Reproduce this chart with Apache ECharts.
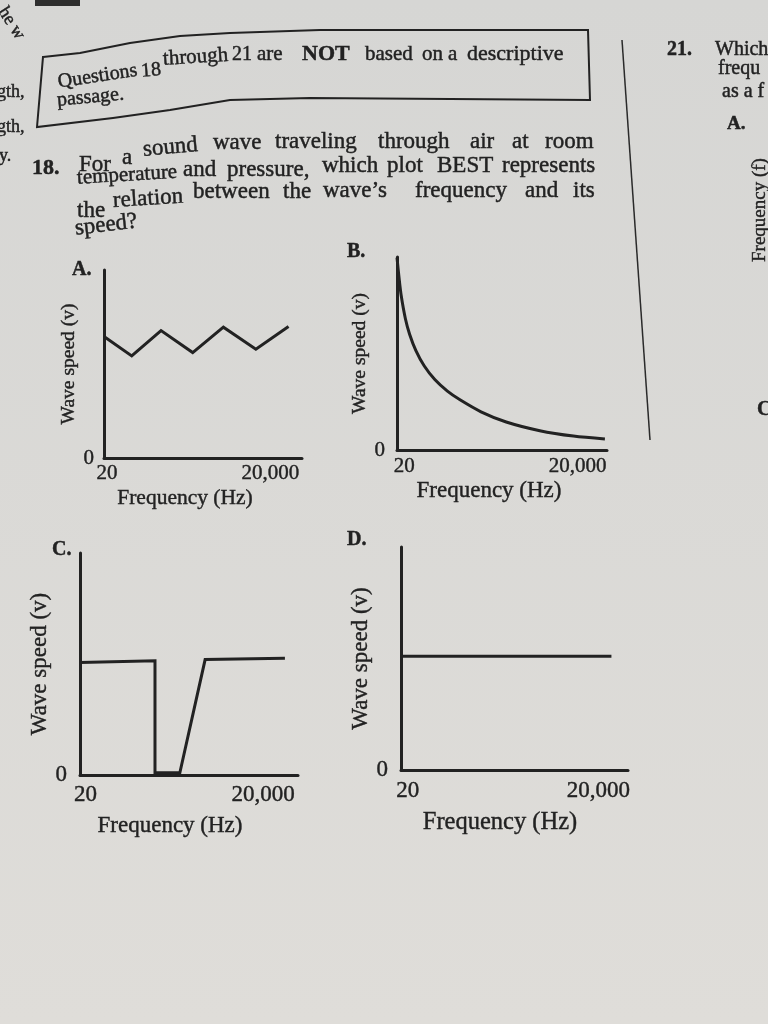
<!DOCTYPE html>
<html>
<head>
<meta charset="utf-8">
<script src="https://cdn.jsdelivr.net/npm/echarts@6/dist/echarts.min.js"></script>
<style>
html,body{margin:0;padding:0;background:#dcdbd8;}
#chart{width:768px;height:1024px;}
</style>
</head>
<body>
<div id="chart"></div>
<script>
// ---- data ----
const xTickLabels = ['20', '20,000'];
const yTickLabels = ['0'];
const xTitle = 'Frequency (Hz)';
const yTitle = 'Wave speed (v)';
const panelLetters = ['A.', 'B.', 'C.', 'D.'];

const freqA = [0, 14, 28.8, 44.8, 60.3, 76.7, 93.2];
const speedA = [6.46, 5.43, 6.78, 5.61, 6.96, 5.79, 6.99];

const freqB = [0, 1, 2, 4, 6, 9, 13, 18, 24, 30, 40, 52, 68, 84, 99];
const speedB = [9.97, 8.9, 8.0, 6.8, 6.0, 5.15, 4.35, 3.65, 3.05, 2.6, 1.98, 1.45, 1.0, 0.72, 0.57];

const freqC = [0, 34.4, 34.4, 45.8, 57.4, 94];
const speedC = [5.07, 5.15, 0.1, 0.1, 5.2, 5.26];

const freqD = [0, 92.7];
const speedD = [5.1, 5.1];

// where the two x tick labels sit on each panel's 0..100 frequency scale
const xTickAtA = [1.5, 84];
const xTickAtB = [3.5, 86];
const xTickAtC = [2.5, 84];
const xTickAtD = [3, 87];

// ---- layout / style ----
const INK = '#222222';
const SERIF = '"Liberation Serif", "DejaVu Serif", serif';

const panels = [
  {grid:{left:104, top:270, width:198, height:188}, fx:freqA, sy:speedA, ticks:xTickAtA, smooth:false,
   tickFs:21, xMargin:5, yMargin:10, xNameFs:21.5, xGap:29, xPad:36, yNameFs:19.5, yGap:12},
  {grid:{left:397, top:257, width:210, height:193}, fx:freqB, sy:speedB, ticks:xTickAtB, smooth:0.3,
   tickFs:21, xMargin:6, yMargin:12, xNameFs:23, xGap:29, xPad:26, yNameFs:19.5, yGap:14},
  {grid:{left:80, top:553, width:218, height:222}, fx:freqC, sy:speedC, ticks:xTickAtC, smooth:false,
   tickFs:23, xMargin:8, yMargin:13, xNameFs:23, xGap:39, xPad:38, yNameFs:23, yGap:8},
  {grid:{left:401, top:547, width:227, height:223}, fx:freqD, sy:speedD, ticks:xTickAtD, smooth:false,
   tickFs:23, xMargin:9, yMargin:13, xNameFs:24.5, xGap:40, xPad:29, yNameFs:23, yGap:11}
];

const grids = [], xAxes = [], yAxes = [], series = [];
panels.forEach((p, i) => {
  grids.push(Object.assign({containLabel:false}, p.grid));
  const txt = (fs) => ({color:INK, fontFamily:SERIF, fontSize:fs, textBorderColor:INK, textBorderWidth:0.4});
  xAxes.push({
    gridIndex:i, type:'value', min:0, max:100,
    axisLine:{show:true, onZero:false, lineStyle:{color:INK, width:3}},
    axisTick:{show:false}, splitLine:{show:false},
    axisLabel:Object.assign({
      show:true, customValues:p.ticks, margin:p.xMargin,
      formatter:(v) => { const k = p.ticks.indexOf(v); return k >= 0 ? xTickLabels[k] : ''; }
    }, txt(p.tickFs)),
    name:xTitle, nameLocation:'middle', nameGap:p.xGap,
    nameTextStyle:Object.assign({padding:[0, p.xPad, 0, 0]}, txt(p.xNameFs))
  });
  yAxes.push({
    gridIndex:i, type:'value', min:0, max:10,
    axisLine:{show:true, onZero:false, lineStyle:{color:INK, width:3}},
    axisTick:{show:false}, splitLine:{show:false},
    axisLabel:Object.assign({
      show:true, customValues:[0], margin:p.yMargin,
      formatter:() => yTickLabels[0]
    }, txt(p.tickFs)),
    name:yTitle, nameLocation:'middle', nameGap:p.yGap,
    nameTextStyle:txt(p.yNameFs)
  });
  series.push({
    type:'line', xAxisIndex:i, yAxisIndex:i,
    data:p.fx.map((x, k) => [x, p.sy[k]]),
    showSymbol:false, smooth:p.smooth, clip:false,
    lineStyle:{color:INK, width:3, join:'miter'}, animation:false
  });
});

// ---- page text (graphic) ----
const g = [];
g.push({type:'rect', z:-10, silent:true, shape:{x:0, y:0, width:768, height:1024},
  style:{fill:{type:'linear', x:0, y:0, x2:0, y2:1, colorStops:[{offset:0, color:'#d6d6d4'}, {offset:1, color:'#dfddd9'}]}}});

function word(text, x, base, size, bold, rot, color) {
  return {
    type:'text', x:x, y:base - 0.18 * size, rotation:rot || 0, silent:true, z:5,
    style:{text:text, fill:color || INK, stroke:color || INK, lineWidth:0.45,
      font:(bold ? 'bold ' : '') + size + 'px ' + SERIF,
      align:'left', verticalAlign:'middle', textAlign:'left', textVerticalAlign:'middle'}
  };
}

// header box
g.push({type:'polygon', silent:true, z:5, shape:{points:[
  [43,57],[80,53],[130,43],[180,36],[230,33],[320,30],[588,30],[590,100],[310,98],[230,100],[170,110],[113,118],[37,127]
]}, style:{fill:'none', stroke:INK, lineWidth:2}});
[['Questions',58,86,20,false,0.15],['18',141,75,20,false,0.08],['through',163,63,21,false,0.06],
 ['21',232,58,20],['are',257,58,21],['NOT',302,58,22,true],['based',365,58,21],['on',422,58,21],
 ['a',448,58,21],['descriptive',467,58,22],['passage.',57,104,20,false,0.09]
].forEach(w => g.push(word(w[0], w[1], w[2], w[3], w[4], w[5])));

// question 18
const qWords = [
  ['18.',32,172,22,true],['For',79,169,23],['a',122,162,23],['sound',143,154,23,false,0.09],['wave',213,147,23],
  ['traveling',275,146,23],['through',378,146,23],['air',470,146,23],['at',512,146,23],['room',545,146,23],
  ['temperature',77,182,21,false,0.06],['and',183,174,23],['pressure,',227,174,23],['which',322,170,23],
  ['plot',387,170,23],['BEST',437,170,23],['represents',502,170,23],
  ['the',77,215,23],['relation',113,205,23,false,0.06],['between',193,196,23],['the',283,196,23],
  ['wave\u2019s',323,195,23],['frequency',415,195,23],['and',525,195,23],['its',573,195,23],
  ['speed?',75,233,23,false,0.12]
];
qWords.forEach(w => g.push(word(w[0], w[1], w[2], w[3], w[4], w[5])));

// panel letters
[[72,273],[347,255],[52,553],[347,543]].forEach((pt, i) => g.push(word(panelLetters[i], pt[0], pt[1], 20, true)));

// right column fragments
g.push({type:'line', silent:true, z:5, shape:{x1:622, y1:40, x2:650, y2:440}, style:{stroke:'#2a2a2a', lineWidth:1.5}});
g.push(word('21.', 667, 53, 20, true));
g.push(word('Which', 715, 53, 20));
g.push(word('frequ', 718, 72, 20));
g.push(word('as a f', 722, 95, 20));
g.push(word('A.', 727, 128, 19, true));
g.push({type:'text', x:760, y:262, rotation:Math.PI/2, silent:true, z:5,
  style:{text:'Frequency (f)', fill:INK, stroke:INK, lineWidth:0.4, font:'19px ' + SERIF, align:'left', verticalAlign:'middle', textAlign:'left', textVerticalAlign:'middle'}});
g.push(word('C', 757, 413, 20, true));

// left margin fragments
g.push({type:'rect', silent:true, z:5, shape:{x:35, y:0, width:45, height:6}, style:{fill:'#2e2e2e'}});
g.push(word('he w', 2, 12, 18, false, -1.0));
g.push(word('gth,', -3, 96, 18));
g.push(word('gth,', -3, 131, 18));
g.push(word('y.', -1, 160, 18));

const chart = echarts.init(document.getElementById('chart'), null, {renderer:'canvas'});
chart.setOption({
  animation:false,
  backgroundColor:'transparent',
  grid:grids, xAxis:xAxes, yAxis:yAxes, series:series,
  graphic:{elements:g}
});
</script>
</body>
</html>
